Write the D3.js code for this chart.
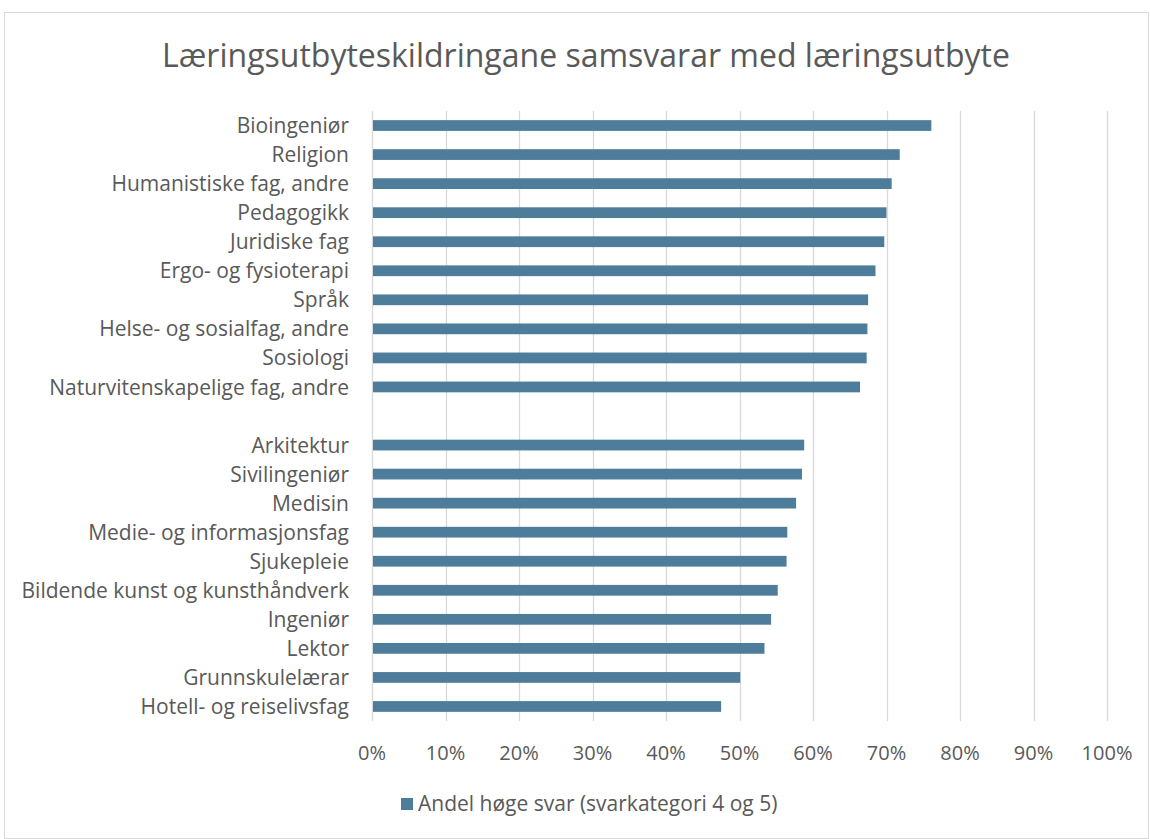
<!DOCTYPE html>
<html>
<head>
<meta charset="utf-8">
<script src="https://cdn.jsdelivr.net/npm/d3@7"></script>
<style>
    body { margin: 0; background: #fff; }
    text { font-family: "Open Sans", Lato, sans-serif; fill: #595959; }
</style>
</head>
<body>
<div id="graph1"></div>
<script>
// Data ("" = blank separator row)
const categories = [
    "Bioingeniør", "Religion", "Humanistiske fag, andre", "Pedagogikk", "Juridiske fag",
    "Ergo- og fysioterapi", "Språk", "Helse- og sosialfag, andre", "Sosiologi",
    "Naturvitenskapelige fag, andre", "",
    "Arkitektur", "Sivilingeniør", "Medisin", "Medie- og informasjonsfag", "Sjukepleie",
    "Bildende kunst og kunsthåndverk", "Ingeniør", "Lektor", "Grunnskulelærar",
    "Hotell- og reiselivsfag"
];
const values = [
    76.1, 71.8, 70.7, 70.0, 69.7, 68.5, 67.5, 67.4, 67.3, 66.4, null,
    58.8, 58.5, 57.7, 56.5, 56.4, 55.2, 54.3, 53.4, 50.1, 47.5
];
const xTicks = [0, 10, 20, 30, 40, 50, 60, 70, 80, 90, 100];
const title = "Læringsutbyteskildringane samsvarar med læringsutbyte";
const seriesName = "Andel høge svar (svarkategori 4 og 5)";

const width = 1150, height = 839;
const margin = {top: 111, right: 43, bottom: 118, left: 372};
const barColor = "#4e7c9b";

let data = categories.map(function (c, i) {
    return {idx: i, name: c, value: values[i]};
});

let svg = d3.select("#graph1")
    .append("svg")
    .attr("width", width)
    .attr("height", height);

// chart border
svg.append("rect")
    .attr("x", 4.5).attr("y", 12.5)
    .attr("width", width - 6).attr("height", height - 13)
    .attr("fill", "none")
    .attr("stroke", "#d9d9d9");

let g = svg.append("g")
    .attr("transform", `translate(${margin.left}, ${margin.top})`);

let plotW = width - margin.left - margin.right;
let plotH = height - margin.top - margin.bottom;

let x = d3.scaleLinear().domain([0, 100]).range([0, plotW]);
let y = d3.scaleBand()
    .domain(data.map(d => d.idx))
    .range([0, plotH])
    .paddingInner(0.63)
    .paddingOuter(0.315);

// gridlines
g.selectAll("line.grid")
    .data(xTicks)
    .enter()
    .append("line")
    .attr("class", "grid")
    .attr("x1", d => Math.round(x(d)) + 0.5)
    .attr("x2", d => Math.round(x(d)) + 0.5)
    .attr("y1", 0)
    .attr("y2", plotH)
    .attr("stroke", "#d9d9d9")
    .attr("stroke-width", 1.3);

// bars
g.selectAll("rect.bar")
    .data(data.filter(d => d.value !== null))
    .enter()
    .append("rect")
    .attr("class", "bar")
    .attr("x", x(0) + 1)
    .attr("y", d => y(d.idx))
    .attr("width", d => x(d.value) - x(0) - 1)
    .attr("height", y.bandwidth())
    .attr("fill", barColor);

// category labels
g.selectAll("text.cat")
    .data(data)
    .enter()
    .append("text")
    .attr("class", "cat")
    .attr("x", -23)
    .attr("y", d => y(d.idx) + y.bandwidth() / 2)
    .attr("dy", "0.36em")
    .attr("text-anchor", "end")
    .style("font-size", "21px")
    .text(d => d.name);

// x axis tick labels
g.selectAll("text.tick")
    .data(xTicks)
    .enter()
    .append("text")
    .attr("class", "tick")
    .attr("x", d => x(d))
    .attr("y", plotH + 39)
    .attr("text-anchor", "middle")
    .style("font-size", "20px")
    .text(d => d + "%");

// title
svg.append("text")
    .attr("x", 586)
    .attr("y", 67)
    .attr("text-anchor", "middle")
    .style("font-size", "32px")
    .text(title);

// legend
svg.append("rect")
    .attr("x", 401).attr("y", 798)
    .attr("width", 12).attr("height", 12)
    .attr("fill", barColor);
svg.append("text")
    .attr("x", 418)
    .attr("y", 811)
    .style("font-size", "21px")
    .text(seriesName);
</script>
</body>
</html>
